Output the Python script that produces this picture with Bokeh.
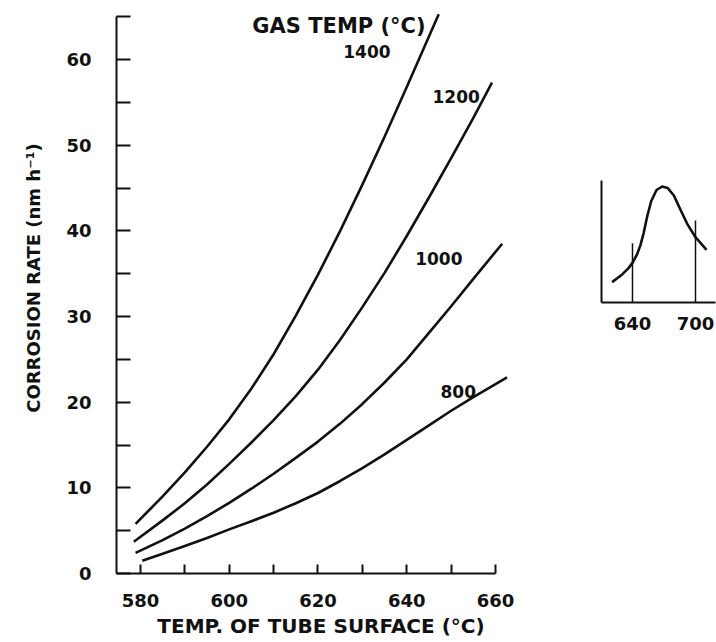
from bokeh.plotting import figure
from bokeh.models import Range1d, FixedTicker, Label, Spacer
from bokeh.layouts import row, column
from bokeh.embed import file_html
from bokeh.resources import INLINE

# ---- data ----
x_1400 = [578.9, 585, 590, 595, 600, 605, 610, 615, 620, 625, 630, 635, 640, 647.2]
r_1400 = [5.8, 9.0, 11.8, 14.8, 18.0, 21.6, 25.6, 30.1, 34.9, 40.0, 45.4, 51.0, 56.8, 65.3]

x_1200 = [578.5, 585, 590, 595, 600, 605, 610, 615, 620, 625, 630, 635, 640, 645, 650, 655, 659.2]
r_1200 = [3.7, 6.2, 8.2, 10.4, 12.8, 15.3, 17.9, 20.7, 23.8, 27.3, 31.1, 35.1, 39.4, 43.9, 48.5, 53.2, 57.3]

x_1000 = [578.9, 585, 590, 595, 600, 605, 610, 615, 620, 625, 630, 635, 640, 645, 650, 655, 661.5]
r_1000 = [2.4, 3.9, 5.25, 6.7, 8.25, 9.9, 11.65, 13.5, 15.4, 17.5, 19.8, 22.3, 25.0, 28.1, 31.2, 34.4, 38.5]

x_800 = [580.4, 585, 590, 595, 600, 605, 610, 615, 620, 625, 630, 635, 640, 645, 650, 655, 662.6]
r_800 = [1.5, 2.3, 3.2, 4.15, 5.15, 6.1, 7.1, 8.2, 9.4, 10.8, 12.3, 13.9, 15.6, 17.3, 19.0, 20.6, 22.9]

series_names = ["1400", "1200", "1000", "800"]

x_ticks = [580, 600, 620, 640, 660]
x_minor = [590, 610, 630, 650]
y_ticks = [0, 10, 20, 30, 40, 50, 60]
y_minor = [5, 15, 25, 35, 45, 55, 65]

inset_x = [620.6, 630.2, 636.0, 640.0, 644.4, 647.6, 650.8, 654.0, 657.8, 662.9, 668.3,
           673.6, 679.4, 685.7, 692.1, 700.0, 710.5]
inset_y = [0.167, 0.230, 0.280, 0.325, 0.395, 0.470, 0.575, 0.705, 0.830, 0.922, 0.951,
           0.938, 0.877, 0.760, 0.645, 0.535, 0.432]
inset_marks = [640, 700]
inset_mark_tops = [0.486, 0.672]

FONT = "DejaVu Sans"
INK = "#111111"

# ---- main chart ----
p = figure(width=528, height=641, output_backend="svg", toolbar_location=None,
           x_range=Range1d(574.6, 664.5), y_range=Range1d(0, 66.9),
           min_border_left=116, min_border_right=13, min_border_top=0,
           min_border_bottom=68)
p.outline_line_color = None
p.xgrid.visible = False
p.ygrid.visible = False
p.background_fill_color = "white"

for xs, ys in [(x_1400, r_1400), (x_1200, r_1200), (x_1000, r_1000), (x_800, r_800)]:
    p.line(xs, ys, line_color=INK, line_width=2.6, line_join="round")

xa = p.xaxis[0]
xa.ticker = FixedTicker(ticks=x_ticks, minor_ticks=x_minor)
xa.bounds = (574.6, 660)
xa.axis_line_width = 2
xa.axis_line_color = INK
xa.major_tick_in = 9
xa.major_tick_out = 0
xa.minor_tick_in = 9
xa.minor_tick_out = 0
xa.major_tick_line_width = 2
xa.minor_tick_line_width = 2
xa.major_tick_line_color = INK
xa.minor_tick_line_color = INK
xa.major_label_text_font = FONT
xa.major_label_text_font_style = "bold"
xa.major_label_text_font_size = "18px"
xa.major_label_text_color = INK
xa.major_label_standoff = 20
xa.axis_label = "\u2002TEMP. OF TUBE SURFACE (°C)"
xa.axis_label_text_font = FONT
xa.axis_label_text_font_style = "bold"
xa.axis_label_text_font_size = "20px"
xa.axis_label_text_color = INK
xa.axis_label_standoff = 4

ya = p.yaxis[0]
ya.ticker = FixedTicker(ticks=y_ticks, minor_ticks=y_minor)
ya.bounds = (0, 65)
ya.axis_line_width = 2
ya.axis_line_color = INK
ya.major_tick_in = 14
ya.major_tick_out = 0
ya.minor_tick_in = 14
ya.minor_tick_out = 0
ya.major_tick_line_width = 2
ya.minor_tick_line_width = 2
ya.major_tick_line_color = INK
ya.minor_tick_line_color = INK
ya.major_label_text_font = FONT
ya.major_label_text_font_style = "bold"
ya.major_label_text_font_size = "18px"
ya.major_label_text_color = INK
ya.major_label_standoff = 25
ya.axis_label = "\u2003CORROSION RATE (nm h⁻¹)"
ya.axis_label_text_font = FONT
ya.axis_label_text_font_style = "bold"
ya.axis_label_text_font_size = "18px"
ya.axis_label_text_color = INK
ya.axis_label_standoff = 19

def add_label(x, y, text, size):
    p.add_layout(Label(x=x, y=y, text=text, text_font=FONT, text_font_style="bold",
                       text_font_size=size, text_color=INK,
                       text_align="left", text_baseline="middle"))

add_label(605.2, 63.9, "GAS TEMP (°C)", "21px")
add_label(625.7, 61.0, series_names[0], "17px")
add_label(645.8, 55.7, series_names[1], "17px")
add_label(641.9, 36.8, series_names[2], "17px")
add_label(647.6, 21.3, series_names[3], "17px")

# ---- inset ----
q = figure(width=188, height=168, output_backend="svg", toolbar_location=None,
           x_range=Range1d(610.5, 720.0), y_range=Range1d(0, 1),
           min_border_left=73, min_border_right=0, min_border_top=8,
           min_border_bottom=38)
q.outline_line_color = None
q.xgrid.visible = False
q.ygrid.visible = False
q.line(inset_x, inset_y, line_color=INK, line_width=2.6, line_join="round")
q.segment(x0=inset_marks, y0=[0, 0], x1=inset_marks, y1=inset_mark_tops,
          line_color=INK, line_width=1.5)

qx = q.xaxis[0]
qx.ticker = FixedTicker(ticks=inset_marks)
qx.bounds = (610.5, 718.6)
qx.axis_line_width = 2
qx.axis_line_color = INK
qx.major_tick_in = 0
qx.major_tick_out = 0
qx.minor_tick_in = 0
qx.minor_tick_out = 0
qx.major_label_text_font = FONT
qx.major_label_text_font_style = "bold"
qx.major_label_text_font_size = "18px"
qx.major_label_text_color = INK
qx.major_label_standoff = 14

qy = q.yaxis[0]
qy.ticker = FixedTicker(ticks=[])
qy.axis_line_width = 2
qy.axis_line_color = INK
qy.major_tick_in = 0
qy.major_tick_out = 0
qy.minor_tick_in = 0
qy.minor_tick_out = 0

layout = row(p, column(Spacer(width=188, height=172), q))

open("out.html", "w").write(file_html(layout, INLINE))
